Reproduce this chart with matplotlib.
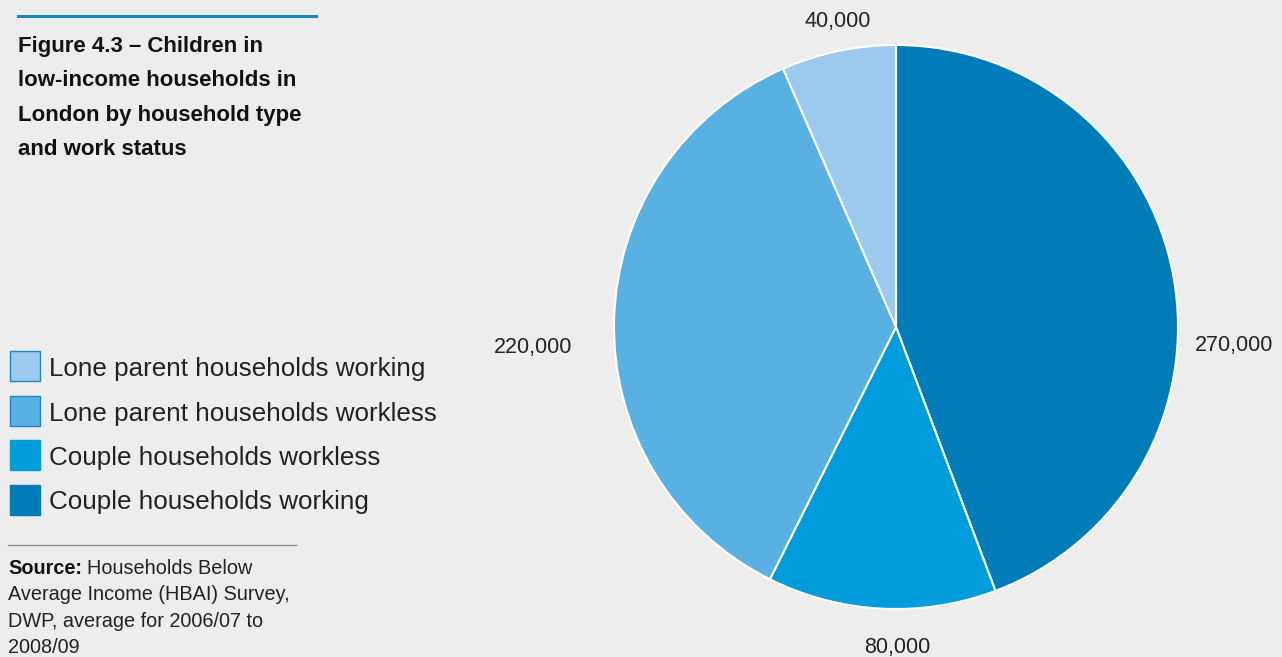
import matplotlib
matplotlib.use("Agg")
import matplotlib.pyplot as plt
from matplotlib.patches import Rectangle
from matplotlib.lines import Line2D

# slices clockwise from 12 o'clock
categories = ["Couple households working", "Couple households workless",
              "Lone parent households workless", "Lone parent households working"]
values = [270000, 80000, 220000, 40000]
colors = ["#007db8", "#009cdc", "#58b0e3", "#9bcaee"]
legend_order = [3, 2, 1, 0]
# label positions in pie radius units
label_pos = [(1.199, -0.067), (0.004, -1.135), (-1.287, -0.072), (-0.206, 1.082)]

W, H = 1282, 657
BG = "#ededed"
plt.rcParams['font.family'] = ['Liberation Sans', 'DejaVu Sans']

fig = plt.figure(figsize=(W / 100, H / 100), dpi=100, facecolor=BG)


def fx(px):
    return px / W


def fy(py):
    return 1 - py / H


# pie
cx, cy, r = 896, 327, 282
ax = fig.add_axes([fx(cx - r), fy(cy + r), 2 * r / W, 2 * r / H])
ax.set_facecolor(BG)
ax.pie(values, colors=colors, startangle=90, counterclock=False, radius=1,
       wedgeprops=dict(edgecolor="white", linewidth=1.5))
ax.set_xlim(-1, 1)
ax.set_ylim(-1, 1)
ax.set_aspect("equal")
ax.axis("off")
for v, (lx, ly) in zip(values, label_pos):
    ax.text(lx, ly, f"{v:,}", ha="center", va="center", fontsize=15.5,
            color="#222222", clip_on=False)

# title (no condensed face installed, so a smaller bold to keep line widths)
fig.add_artist(Line2D([fx(18), fx(316)], [fy(16), fy(16)], color="#1a86c6", lw=2.2))
title_lines = ["Figure 4.3 – Children in", "low-income households in",
               "London by household type", "and work status"]
for i, line in enumerate(title_lines):
    fig.text(fx(18), fy(52 + i * 34.3), line, fontsize=16, fontweight="bold",
             color="#111111", va="baseline", ha="left")

# legend
for row, idx in enumerate(legend_order):
    yc = 366 + row * 44.5
    edge = "#1a86c6" if row < 2 else colors[idx]
    fig.add_artist(Rectangle((fx(9.5), fy(yc + 15)), 30 / W, 30 / H,
                             transform=fig.transFigure, facecolor=colors[idx],
                             edgecolor=edge, lw=1.0))
    fig.text(fx(49), fy(yc + 3), categories[idx], fontsize=18.7, color="#222222",
             va="center", ha="left")

# source
fig.add_artist(Line2D([fx(8), fx(296)], [fy(545), fy(545)], color="#888888", lw=0.9))
src = fig.text(fx(8), fy(574), "Source:", fontsize=14.3, fontweight="bold",
               color="#111111", va="baseline")
renderer = fig.canvas.get_renderer()
bb = src.get_window_extent(renderer)
fig.text(bb.x1 / W + fx(5), fy(574), "Households Below", fontsize=14.3,
         color="#222222", va="baseline")
src_lines = ["Average Income (HBAI) Survey,", "DWP, average for 2006/07 to", "2008/09"]
for i, line in enumerate(src_lines):
    fig.text(fx(8), fy(600.5 + i * 26.3), line, fontsize=14.3, color="#222222",
             va="baseline")

fig.savefig("out.png", dpi=100, facecolor=BG)
